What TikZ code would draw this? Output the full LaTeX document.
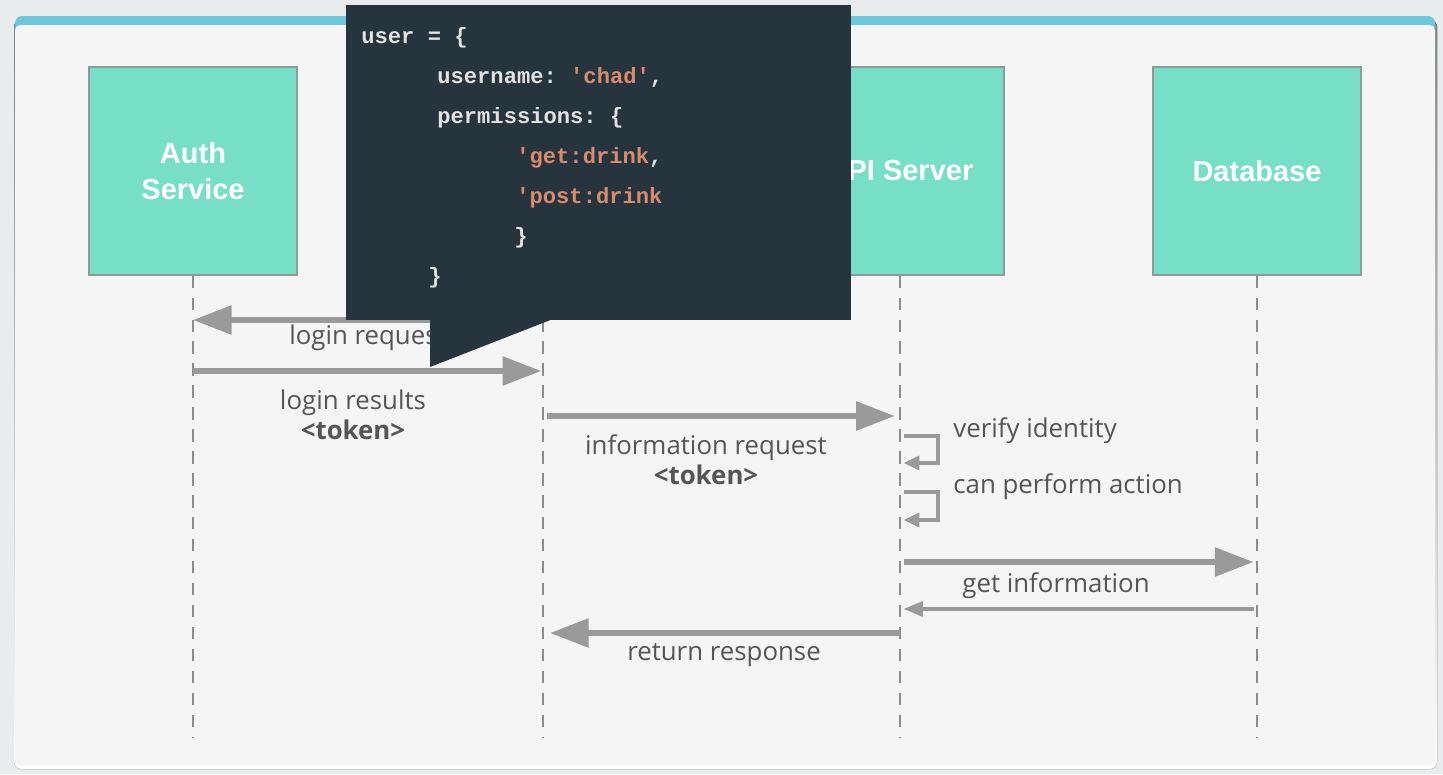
\documentclass[tikz,border=0pt]{standalone}
\usepackage{fontspec}
\setmainfont{Open Sans}
\setsansfont{Liberation Sans}
\setmonofont{Liberation Mono}
\usetikzlibrary{arrows.meta}
\definecolor{page}{HTML}{E9ECEC}
\definecolor{shade}{HTML}{DADCDC}
\definecolor{card}{HTML}{F5F5F5}
\definecolor{topbar}{HTML}{6CC8DB}
\definecolor{mint}{HTML}{77DFC6}
\definecolor{edge}{HTML}{8E9C98}
\definecolor{wire}{HTML}{9A9A9A}
\definecolor{life}{HTML}{8C8C8C}
\definecolor{ink}{HTML}{555555}
\definecolor{slate}{HTML}{26343D}
\definecolor{codefg}{HTML}{E2E2E2}
\definecolor{codestr}{HTML}{D98B6E}

\tikzset{
  actor/.style={draw=edge, line width=0.7pt, fill=mint, minimum width=4.16cm, minimum height=4.16cm,
    text=white, align=center, font=\sffamily\bfseries\fontsize{16.5}{20.5}\selectfont},
  lifeline/.style={life, line width=1.1pt, dash pattern=on 7pt off 5.5pt},
  bigmsg/.style={wire, line width=3.1pt, -{Triangle[length=22pt,width=16pt]}},
  smallmsg/.style={wire, line width=2pt, -{Triangle[length=11pt,width=8.5pt]}},
  selfmsg/.style={wire, line width=1.8pt, -{Triangle[length=9pt,width=8pt]}},
  msglabel/.style={text=ink, align=center, inner sep=0pt},
  codeline/.style={anchor=base west, inner sep=0pt, text=codefg, font=\ttfamily\bfseries\fontsize{12.6}{14}\selectfont}
}

\begin{document}
\begin{tikzpicture}[x=0.02cm,y=-0.02cm,font=\fontsize{14.7}{17}\selectfont]
  \useasboundingbox (0,0) rectangle (1443,774);
  % card
  \fill[page] (0,0) rectangle (1443,774);
  \fill[shade, rounded corners=4pt] (14,20) rectangle (1437,769);
  \fill[topbar, rounded corners=4pt] (15,16) rectangle (1435,60);
  \fill[card, rounded corners=3pt] (15,25) rectangle (1435,765);

  % participants
  \node[actor] (auth) at (193,171) {Auth\\Service};
  \node[actor] (client) at (543,171) {};
  \node[actor] (api) at (900,171) {API Server};
  \node[actor] (db) at (1257,171) {Database};
  \foreach \p in {auth,client,api,db}
    \draw[lifeline] (\p.south) -- (\p.south |- 0,738);

  % messages
  \draw[bigmsg] (client.south |- 0,320) -- (auth.south |- 0,320);
  \node[msglabel] (lreq) at (368,338) {login request};
  \draw[bigmsg] (auth.south |- 0,371) -- ([xshift=-1pt]client.south |- 0,371);
  \node[msglabel] (lres) at (353,415) {login results\\\textbf{<token>}};
  \draw[bigmsg] ([xshift=2pt]client.south |- 0,416) -- ([xshift=-3pt]api.south |- 0,416);
  \node[msglabel] (ireq) at (706,460) {information request\\\textbf{<token>}};
  \draw[selfmsg] ([xshift=2pt]api.south |- 0,436) -| (938,463) -- ([xshift=2pt]api.south |- 0,463);
  \node[msglabel, anchor=west] (verify) at (953,431) {verify identity};
  \draw[selfmsg] ([xshift=2pt]api.south |- 0,492) -| (938,520) -- ([xshift=2pt]api.south |- 0,520);
  \node[msglabel, anchor=west] (perform) at (953,487) {can perform action};
  \draw[bigmsg] ([xshift=2pt]api.south |- 0,562) -- ([xshift=-2pt]db.south |- 0,562);
  \node[msglabel] (getinfo) at (1056,586) {get information};
  \draw[smallmsg] ([xshift=-2pt]db.south |- 0,609) -- ([xshift=2pt]api.south |- 0,609);
  \draw[bigmsg] (api.south |- 0,633) -- ([xshift=4pt]client.south |- 0,633);
  \node[msglabel] (retresp) at (724,655) {return response};

  % token callout
  \node[fill=slate, minimum width=10.1cm, minimum height=6.3cm, inner sep=0pt] (callout) at (598.5,162.5) {};
  \fill[slate] (430,319) -- (430,367) -- (553,319) -- cycle;
  \node[codeline] at (361,43) {user = \{};
  \node[codeline] at (437,83) {username: \textcolor{codestr}{'chad'},};
  \node[codeline] at (437,123) {permissions: \{};
  \node[codeline] at (516,163) {\textcolor{codestr}{'get:drink},};
  \node[codeline] at (516,203) {\textcolor{codestr}{'post:drink}};
  \node[codeline] at (514,243) {\}};
  \node[codeline] at (428,283) {\}};
\end{tikzpicture}
\end{document}
